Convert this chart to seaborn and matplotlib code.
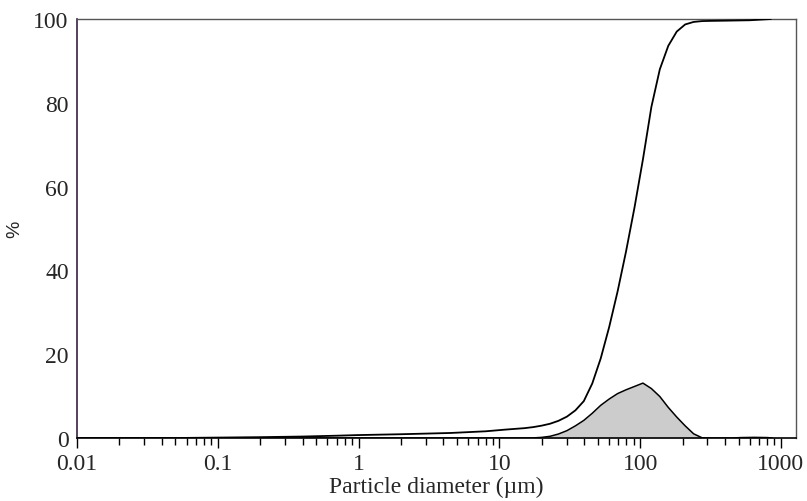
import numpy as np
import pandas as pd
import matplotlib
matplotlib.use("Agg")
import matplotlib.pyplot as plt
import seaborn as sns
from matplotlib.ticker import LogLocator, FixedLocator, FixedFormatter, NullFormatter

# Cumulative undersize (%)
cum_d = [0.01, 0.05, 0.1, 0.2, 0.4, 0.7, 1, 2, 4.5, 8, 11, 15.1, 17.4, 20.0, 22.9, 26.3, 30.2,
         34.7, 39.8, 45.7, 52.5, 60.3, 69.2, 79.4, 91.2, 104.7, 120.2, 138.0, 158.5, 182.0,
         208.9, 239.9, 275.4, 316.2, 400, 600, 850]
cum_v = [0.0, 0.0, 0.1, 0.2, 0.35, 0.55, 0.7, 0.9, 1.2, 1.6, 2.0, 2.35, 2.6, 2.95, 3.4, 4.1, 5.1,
         6.6, 8.8, 13.0, 19.0, 26.5, 35.0, 44.5, 55.0, 66.5, 79.0, 88.0, 93.6, 97.0,
         98.7, 99.3, 99.5, 99.55, 99.6, 99.7, 100.0]

# Volume distribution (%)
dist_d = [0.01, 15.1, 17.4, 20.0, 22.9, 26.3, 30.2, 34.7, 39.8, 45.7, 52.5, 60.3, 69.2, 79.4,
          91.2, 104.7, 120.2, 138.0, 158.5, 182.0, 208.9, 239.9, 275.4, 316.2, 450, 520,
          650, 800, 870]
dist_v = [0.0, 0.0, 0.02, 0.15, 0.4, 0.95, 1.75, 2.9, 4.2, 5.9, 7.8, 9.3, 10.6, 11.5,
          12.3, 13.1, 11.8, 9.9, 7.3, 5.0, 2.9, 1.0, 0.05, 0.0, 0.0, 0.1,
          0.15, 0.1, 0.0]

xticks = [0.01, 0.1, 1, 10, 100, 1000]
xtick_labels = ["0.01", "0.1", "1", "10", "100", "1000"]
yticks = [0, 20, 40, 60, 80, 100]

sns.set_style("white")
plt.rcParams['font.family'] = ['Liberation Serif', 'DejaVu Serif']

fig = plt.figure(figsize=(8.07, 5.02), dpi=100)
ax = fig.add_axes([77/807, 1-439/502, (796-77)/807, (439-20)/502])

cum_df = pd.DataFrame({"d": cum_d, "v": cum_v})
dist_df = pd.DataFrame({"d": dist_d, "v": dist_v})

ax.fill_between(dist_df["d"], 0, dist_df["v"], color="#cccccc", lw=0, zorder=1)
sns.lineplot(data=dist_df, x="d", y="v", ax=ax, color="black", lw=1.1, zorder=3,
             estimator=None, sort=False)
sns.lineplot(data=cum_df, x="d", y="v", ax=ax, color="black", lw=1.3, zorder=3,
             estimator=None, sort=False)

ax.set_xscale("log")
ax.set_xlim(0.01, 1280)
ax.set_ylim(0, 100)

ax.xaxis.set_major_locator(FixedLocator(xticks))
ax.xaxis.set_major_formatter(FixedFormatter(xtick_labels))
ax.xaxis.set_minor_locator(LogLocator(base=10, subs=np.arange(2, 10), numticks=20))
ax.xaxis.set_minor_formatter(NullFormatter())
ax.set_yticks(yticks)
ax.set_yticklabels([str(v) for v in yticks])

ax.tick_params(axis="x", which="major", direction="out", length=7, width=1, pad=4,
               labelsize=17, color="black", bottom=True)
ax.tick_params(axis="x", which="minor", direction="out", length=5, width=1,
               color="black", bottom=True)
ax.tick_params(axis="y", which="both", length=0, pad=6, labelsize=17, left=True)

for s in ["top", "right"]:
    ax.spines[s].set_color("#555555")
    ax.spines[s].set_linewidth(1.0)
ax.spines["left"].set_color("#3a1f45")
ax.spines["left"].set_linewidth(1.2)
ax.spines["bottom"].set_color("black")
ax.spines["bottom"].set_linewidth(1.2)

ax.set_xlabel("Particle diameter (µm)", fontsize=17, labelpad=1)
ax.set_ylabel("%", fontsize=14, family=["Liberation Sans", "DejaVu Sans"], labelpad=7)

fig.savefig("out.png", dpi=100)
